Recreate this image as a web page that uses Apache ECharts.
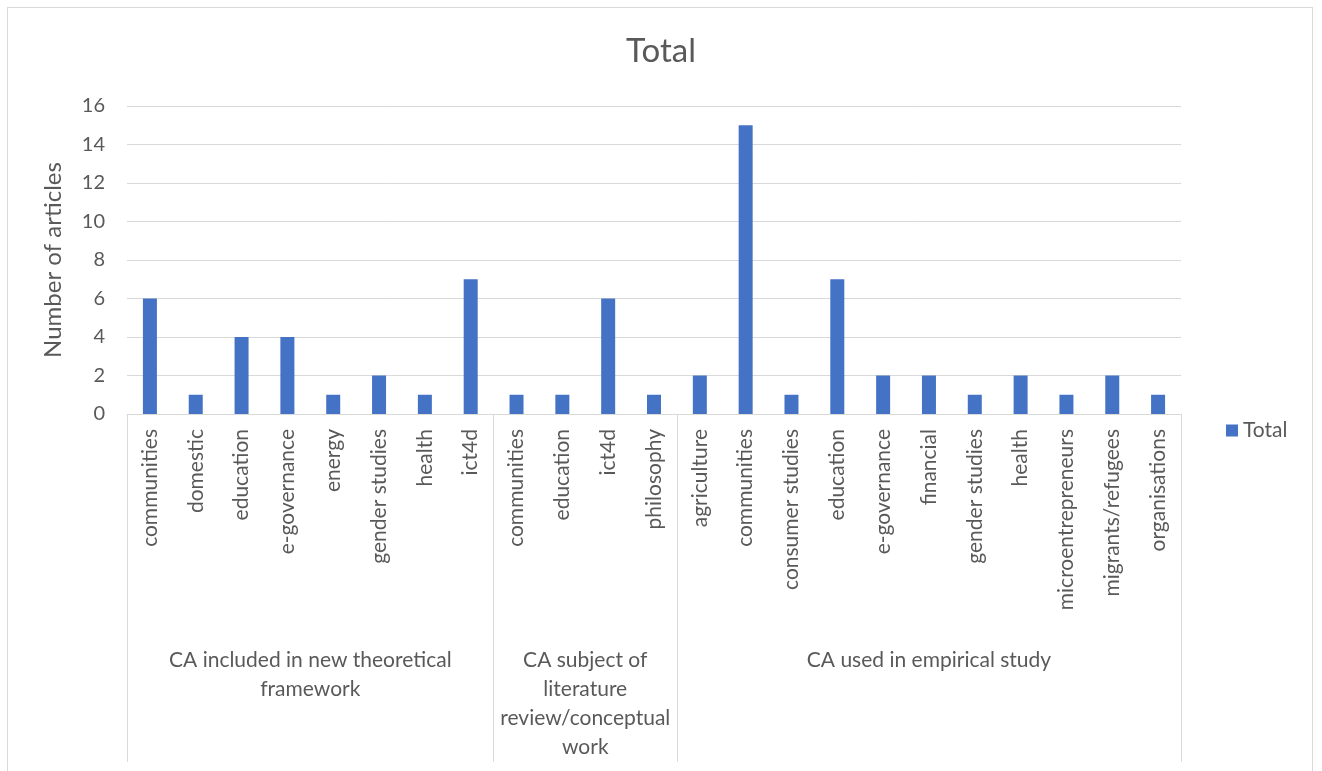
<!DOCTYPE html>
<html>
<head>
<meta charset="utf-8">
<title>Total</title>
<script src="https://cdn.jsdelivr.net/npm/echarts@6/dist/echarts.min.js"></script>
<style>
  html, body { margin: 0; padding: 0; background: #fff; }
  #frame {
    position: absolute; left: 7px; top: 7px; width: 1306px; height: 800px;
    border: 1px solid #d9d9d9; box-sizing: border-box;
  }
  #chart { position: absolute; left: 0; top: 0; width: 1322px; height: 771px; }
</style>
</head>
<body>
<div id="frame"></div>
<div id="chart"></div>
<script>
const categories = [
  'communities', 'domestic', 'education', 'e-governance', 'energy', 'gender studies', 'health', 'ict4d',
  'communities', 'education', 'ict4d', 'philosophy',
  'agriculture', 'communities', 'consumer studies', 'education', 'e-governance', 'financial',
  'gender studies', 'health', 'microentrepreneurs', 'migrants/refugees', 'organisations'
]
const totals = [
  6, 1, 4, 4, 1, 2, 1, 7,
  1, 1, 6, 1,
  2, 15, 1, 7, 2, 2, 1, 2, 1, 2, 1
]
const groupNames = [
  'CA included in new theoretical framework',
  'CA subject of literature review/conceptual work',
  'CA used in empirical study'
]
const groupSizes = [8, 4, 11]

const font = 'Lato, "Open Sans", sans-serif'
const fontSize = 21
const textColor = '#595959'
const lineColor = '#d9d9d9'
const plotLeft = 127
const plotRight = 1181

// group boundaries and centres on a 0..n scale
const bounds = [0]
groupSizes.forEach(s => bounds.push(bounds[bounds.length - 1] + s))
const centres = groupSizes.map((s, i) => bounds[i] + s / 2)

// wrap each group name to the width its group takes on the axis
const ctx = document.createElement('canvas').getContext('2d')
ctx.font = fontSize + 'px ' + font
const catWidth = (plotRight - plotLeft) / categories.length
function wrap(text, maxW) {
  const words = text.split(' ')
  const lines = []
  let cur = ''
  words.forEach(w => {
    const t = cur ? cur + ' ' + w : w
    if (cur && ctx.measureText(t).width > maxW) {
      lines.push(cur)
      cur = w
    } else {
      cur = t
    }
  })
  if (cur) lines.push(cur)
  return lines.join('\n')
}
const wrappedGroups = groupNames.map((g, i) => wrap(g, groupSizes[i] * catWidth - 4))

const chart = echarts.init(document.getElementById('chart'))

chart.setOption({
  animation: false,
  textStyle: { fontFamily: font },
  title: {
    text: 'Total',
    left: 'center',
    top: 30,
    textStyle: { fontSize: 33, fontWeight: 'normal', color: textColor, fontFamily: font }
  },
  legend: {
    data: ['Total'],
    orient: 'vertical',
    left: 1221,
    top: 415,
    icon: 'rect',
    itemWidth: 12,
    itemHeight: 12,
    itemGap: 6,
    textStyle: { fontSize: fontSize, color: textColor, fontFamily: font }
  },
  grid: { left: plotLeft, right: 1322 - plotRight, top: 106, bottom: 357, containLabel: false },
  xAxis: [
    {
      type: 'category',
      data: categories,
      axisLine: { lineStyle: { color: lineColor, width: 1 } },
      axisTick: { show: false },
      axisLabel: {
        rotate: 90,
        interval: 0,
        margin: 15,
        fontSize: fontSize,
        color: textColor,
        fontFamily: font
      }
    },
    {
      type: 'value',
      position: 'bottom',
      min: 0,
      max: categories.length,
      interval: 1,
      axisLine: { show: false },
      splitLine: { show: false },
      axisTick: {
        show: true,
        length: 348,
        customValues: bounds,
        lineStyle: { color: lineColor, width: 1 }
      },
      axisLabel: {
        customValues: centres,
        hideOverlap: false,
        formatter: v => {
          const i = centres.indexOf(v)
          return i < 0 ? '' : wrappedGroups[i]
        },
        margin: 232,
        verticalAlign: 'top',
        align: 'center',
        fontSize: fontSize,
        lineHeight: 29,
        color: textColor,
        fontFamily: font
      }
    }
  ],
  yAxis: {
    type: 'value',
    min: 0,
    max: 16,
    interval: 2,
    name: 'Number of articles',
    nameLocation: 'middle',
    nameGap: 62,
    nameTextStyle: { fontSize: 24, color: textColor, fontFamily: font },
    axisLine: { show: false },
    axisTick: { show: false },
    axisLabel: {
      fontSize: 20,
      color: textColor,
      margin: 22,
      fontFamily: font
    },
    splitLine: { lineStyle: { color: lineColor, width: 1 } }
  },
  series: [
    {
      name: 'Total',
      type: 'bar',
      data: totals,
      barWidth: 14,
      itemStyle: { color: '#4472c4' }
    }
  ]
})
</script>
</body>
</html>
